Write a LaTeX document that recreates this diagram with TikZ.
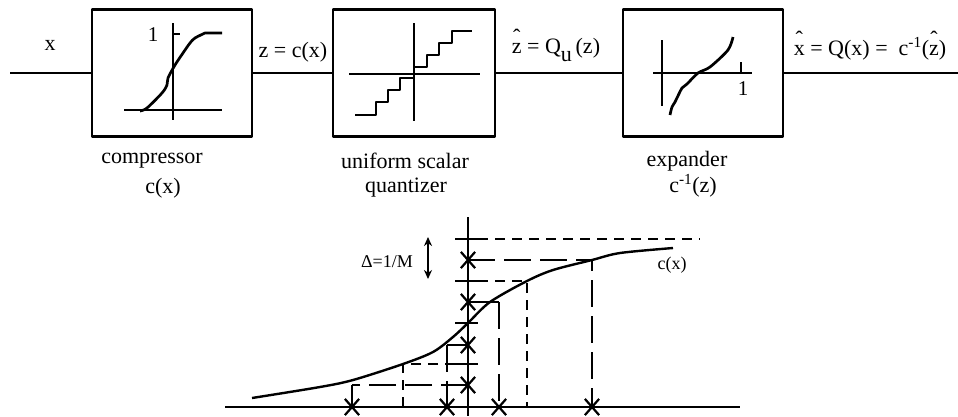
\documentclass[tikz,border=0pt]{standalone}
\usepackage{fontspec}
\setmainfont{Liberation Serif}
\usetikzlibrary{shapes.misc,arrows.meta}
\newcommand\hatted[1]{\ooalign{#1\cr\hidewidth\raisebox{0.40em}{ˆ}\hidewidth\cr}}
\begin{document}
\begin{tikzpicture}[x=1pt,y=-1pt,line join=round,
  blk/.style={draw,line width=2.5pt,minimum width=160pt,minimum height=127pt,inner sep=0pt},
  wire/.style={line width=2.5pt},
  curve/.style={line width=2.7pt},
  lbl/.style={font=\fontsize{22}{26}\selectfont,inner sep=0pt},
  sml/.style={font=\fontsize{21}{24}\selectfont,inner sep=0pt},
  ax/.style={line width=2.2pt},
  bcurve/.style={line width=2.4pt},
  sdash/.style={line width=2.2pt,dash pattern=on 10pt off 7pt},
  ldash/.style={line width=2.2pt,dash pattern=on 27pt off 9pt},
  xmark/.style={cross out,draw,line width=2.2pt,minimum width=12pt,minimum height=14pt,inner sep=0pt},
]
\useasboundingbox (0,0) rectangle (958,416);

% ---------- block diagram ----------
\node[blk] (comp) at (172,73) {};
\node[blk,minimum width=162pt] (quant) at (414,73) {};
\node[blk] (expd) at (703,73) {};
\coordinate (in) at (10,73);
\coordinate (out) at (958,73);
\draw[wire] (in) -- (comp.west);
\draw[wire] (comp.east) -- (quant.west);
\draw[wire] (quant.east) -- (expd.west);
\draw[wire] (expd.east) -- (out);

% labels on wires
\node[lbl,anchor=base] (lx) at (50,50) {x};
\node[lbl,anchor=base] (lz) at (293,57) {z = c(x)};
\node[lbl,anchor=base] (lzh) at (556,53) {\hatted{z} = Q\raisebox{-0.4em}{u}\,(z)};
\node[lbl,anchor=base] (lxh) at (870,55) {\hatted{x} = Q(x) = \ c\textsuperscript{-1}(\hatted{z})};

% captions
\node[lbl] (c1a) at (152,161) {compressor};
\node[lbl] (c1b) at (163,188) {c(x)};
\node[lbl] (c2a) at (405,161) {uniform scalar};
\node[lbl] (c2b) at (406,188) {quantizer};
\node[lbl] (c3a) at (687,161) {expander};
\node[lbl] (c3b) at (693,186) {c\textsuperscript{-1}(z)};

% compressor inner plot
\draw[wire] (124,110) -- (222,110);
\draw[wire] (173,23) -- (173,120);
\draw[wire] (173,34) -- (180,34);
\draw[curve] plot[smooth] coordinates {(140,111) (147,108) (162,93) (167,85) (168,78) (175,65) (183,53) (190,43) (195,38) (205,33)} -- (222,33);
\node[sml] (one1) at (153,35) {1};

% quantizer inner plot
\draw[wire] (349,74) -- (480,74);
\draw[wire] (414,23) -- (414,121);
\draw[wire] (355,115) -| (376,102) -| (388,90) -| (400,78) -| (414,67) -| (427,55) -| (439,43) -| (452,31) -- (472,31);

% expander inner plot
\draw[wire] (653,73) -- (752,73);
\draw[wire] (662,40) -- (662,106);
\draw[wire] (741,62) -- (741,73);
\node[sml] (one3) at (743,89) {1};
\draw[curve] plot[smooth] coordinates {(670,115) (672,107) (675,102) (682,88) (687,84) (698,73) (710,67) (728,50) (733,37)};

% ---------- compander characteristic ----------
\coordinate (hL) at (225,407);
\coordinate (hR) at (740,407);
\coordinate (vT) at (468,217);
\coordinate (vB) at (468,416);
\draw[ax] (hL) -- (hR);
\draw[ax] (vT) -- (vB);

\draw[bcurve] plot[smooth] coordinates {(252,398) (320,387) (353,380) (403,364) (433,352) (453,337) (468,323) (490,302) (527,281) (553,270) (592,260) (620,253) (673,248)};

% thresholds
\foreach \y/\n in {239/a,281/b,323/c,364/d}{
  \coordinate (t\n L) at (455,\y);
  \coordinate (t\n R) at (478,\y);
  \draw[ax] (t\n L) -- (t\n R);
}
\coordinate (ta2) at (700,239);
\coordinate (tb2) at (527,281);
\coordinate (tb3) at (527,407);
\coordinate (td2) at (403,364);
\coordinate (td3) at (403,407);
\draw[sdash] (taR) -- (ta2);
\draw[sdash] (tbR) -- (tb2) -- (tb3);
\draw[sdash] (tdL) -- (td2) -- (td3);

% reconstruction points
\node[xmark] (r1) at (468,260) {};
\node[xmark] (r2) at (468,302) {};
\node[xmark] (r3) at (468,345) {};
\node[xmark] (r4) at (468,385) {};
\node[xmark] (p1) at (592,407) {};
\node[xmark] (p2) at (499,407) {};
\node[xmark] (p3) at (447,407) {};
\node[xmark] (p4) at (352,407) {};
\coordinate (k1) at (592,260);
\coordinate (k2) at (499,302);
\coordinate (k3) at (447,345);
\coordinate (k4) at (352,385);
\draw[ldash] (r1.center) -- (k1) -- (p1.center);
\draw[ax] (r2.center) -- (k2);
\draw[ldash] (k2) -- (p2.center);
\draw[ax] (r3.center) -- (k3);
\draw[ldash] (k3) -- (p3.center);
\draw[ldash] (r4.center) -- (k4);
\draw[ax] (k4) -- (p4.center);

% step size arrow
\coordinate (dA) at (428,237);
\coordinate (dB) at (428,279);
\draw[ax,{Stealth[length=9pt,width=8pt]}-{Stealth[length=9pt,width=8pt]}] (dA) -- (dB);
\node[font=\fontsize{18}{20}\selectfont,inner sep=0pt] (dl) at (387,262) {Δ=1/M};
\node[font=\fontsize{18}{20}\selectfont,inner sep=0pt] (cl) at (672,265) {c(x)};
\end{tikzpicture}
\end{document}
